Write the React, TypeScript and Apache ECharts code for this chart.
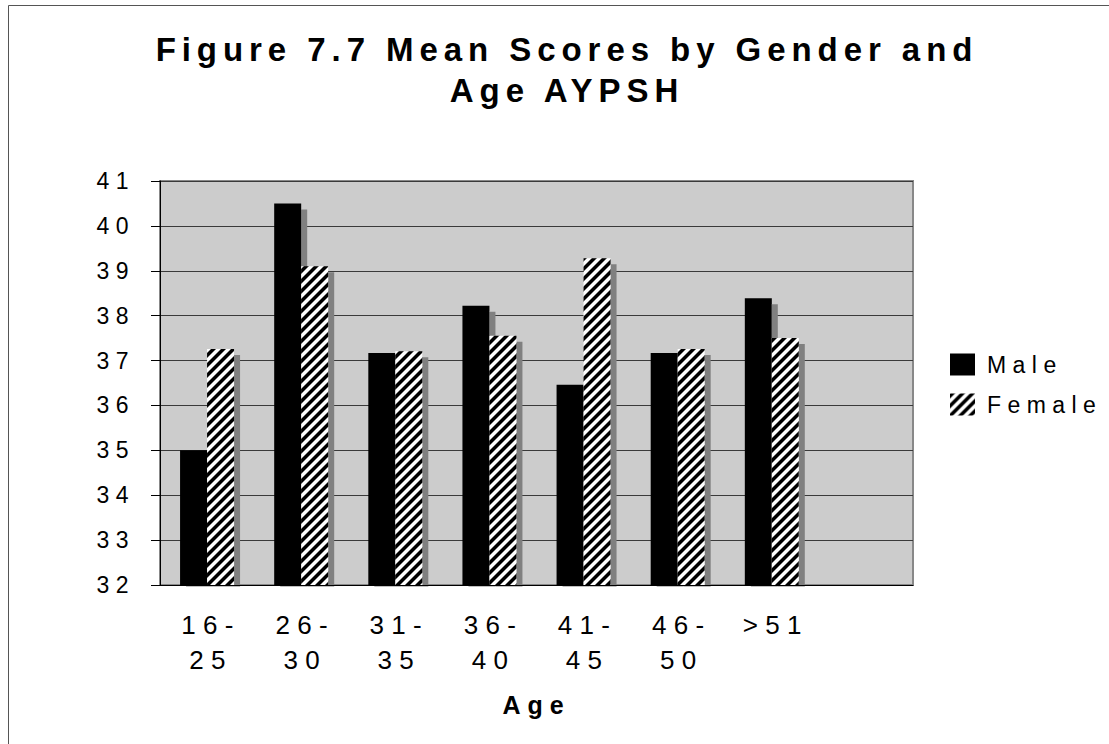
import React, { useEffect, useRef } from 'react';
import * as echarts from 'echarts';

// ---- data ----
const categories = ['16-\n25', '26-\n30', '31-\n35', '36-\n40', '41-\n45', '46-\n50', '>51', ''];
const maleValues = [35.0, 40.5, 37.17, 38.22, 36.46, 37.17, 38.39, null];
const femaleValues = [37.26, 39.1, 37.21, 37.55, 39.28, 37.26, 37.5, null];
const seriesNames = ['Male', 'Female'];
const yMin = 32;
const yMax = 41;
const yInterval = 1;
const titleLines = ['Figure 7.7 Mean Scores by Gender and', 'Age AYPSH'];
const xAxisName = 'Age';

const FONT = '"Liberation Sans", Arial, Helvetica, sans-serif';

const stripeSvg =
  '<svg xmlns="http://www.w3.org/2000/svg" width="10" height="10">' +
  '<rect width="10" height="10" fill="#ffffff"/>' +
  '<polygon points="0,0 5,0 0,5" fill="#000000"/>' +
  '<polygon points="10,0 10,5 5,10 0,10" fill="#000000"/>' +
  '</svg>';
const stripeUrl = 'data:image/svg+xml;charset=utf-8,' + encodeURIComponent(stripeSvg);

const css = `
#chart text { letter-spacing: 0.28em; }
#chart text[style*="33px"] { letter-spacing: 0.18em; }
`;

export default function App() {
  const ref = useRef<HTMLDivElement>(null);
  useEffect(() => {
    if (!ref.current) return;
    const chart = echarts.init(ref.current, undefined, { renderer: 'svg' });
    const shadow = { shadowColor: '#808080', shadowOffsetX: 6, shadowOffsetY: 6, shadowBlur: 0 };
    const option: any = {
      animation: false,
      backgroundColor: '#ffffff',
      textStyle: { fontFamily: FONT },
      graphic: [
        {
          type: 'rect',
          silent: true,
          z: 0,
          shape: { x: 8.5, y: 5.5, width: 1200, height: 800 },
          style: { fill: 'none', stroke: '#555555', lineWidth: 1 },
        },
        {
          type: 'text',
          x: 567,
          y: 69.5,
          z: 1,
          style: {
            text: titleLines.join('\n'),
            fontSize: 33,
            fontWeight: 'bold',
            fontFamily: FONT,
            fill: '#000000',
            textAlign: 'center',
            textVerticalAlign: 'middle',
            lineHeight: 41,
          },
        },
        {
          type: 'rect',
          silent: true,
          z: 5,
          shape: { x: 155, y: 586.5, width: 780, height: 10 },
          style: { fill: '#ffffff' },
        },
      ],
      grid: {
        left: 160,
        top: 181,
        width: 753,
        height: 404,
        show: true,
        backgroundColor: '#cccccc',
        borderColor: '#888888',
        borderWidth: 2,
      },
      legend: {
        orient: 'vertical',
        left: 950,
        top: 353,
        padding: 0,
        itemWidth: 25,
        itemHeight: 22,
        itemGap: 17,
        icon: 'rect',
        data: seriesNames,
        itemStyle: { shadowBlur: 0, shadowOffsetX: 0, shadowOffsetY: 0, shadowColor: 'rgba(0,0,0,0)' },
        textStyle: { fontSize: 23, color: '#000000', fontFamily: FONT, padding: [0, 0, 0, 7] },
      },
      xAxis: {
        type: 'category',
        data: categories,
        z: 10,
        axisLine: { lineStyle: { color: '#000000', width: 1 } },
        axisTick: { length: 10, lineStyle: { color: '#000000' } },
        axisLabel: {
          interval: 0,
          fontSize: 26,
          lineHeight: 35,
          color: '#000000',
          margin: 22,
          fontFamily: FONT,
          padding: [0, 0, 0, 8],
        },
        name: xAxisName,
        nameLocation: 'middle',
        nameGap: 107,
        nameTextStyle: { fontSize: 25, fontWeight: 'bold', color: '#000000', fontFamily: FONT },
      },
      yAxis: {
        type: 'value',
        min: yMin,
        max: yMax,
        interval: yInterval,
        axisLine: { show: true, lineStyle: { color: '#000000', width: 1 } },
        axisTick: { show: true, length: 9, lineStyle: { color: '#000000' } },
        axisLabel: { fontSize: 23, color: '#000000', margin: 25, fontFamily: FONT, padding: [4, 0, 0, 0] },
        splitLine: { show: true, lineStyle: { color: '#3a3a3a', width: 1 } },
      },
      series: [
        {
          name: seriesNames[0],
          type: 'bar',
          data: maleValues,
          barWidth: 27,
          barGap: '0%',
          itemStyle: { color: '#000000', ...shadow },
        },
        {
          name: seriesNames[1],
          type: 'bar',
          data: femaleValues,
          barWidth: 27,
          barGap: '0%',
          itemStyle: {
            color: { image: stripeUrl, repeat: 'repeat', imageWidth: 10, imageHeight: 10 },
            ...shadow,
          },
        },
      ],
    };
    chart.setOption(option);
    return () => chart.dispose();
  }, []);
  return (
    <div style={{ position: 'fixed', left: 0, top: 0, width: 1109, height: 744 }}>
      <style>{css}</style>
      <div id="chart" ref={ref} style={{ width: 1109, height: 744 }} />
    </div>
  );
}
